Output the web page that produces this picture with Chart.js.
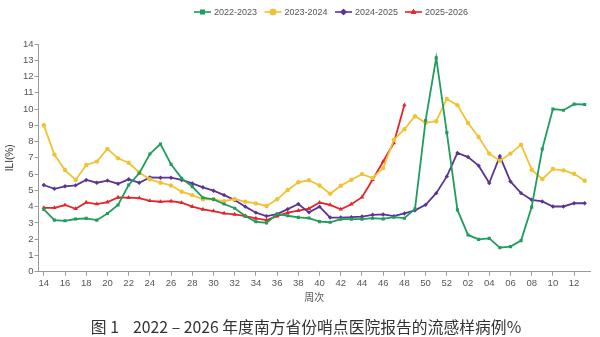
<!DOCTYPE html>
<html>
<head>
<meta charset="utf-8">
<script src="https://cdn.jsdelivr.net/npm/chart.js@4.4.1/dist/chart.umd.min.js"></script>
<style>
  html, body { margin: 0; padding: 0; background: #fff; }
  #wrap { width: 600px; height: 337px; }
</style>
</head>
<body>
<div id="wrap"><canvas id="c" width="600" height="337"></canvas></div>
<script>
// ── Data ─────────────────────────────────────────────────────────────────────

const weeks = [
  '14','15','16','17','18','19','20','21','22','23','24','25','26','27','28','29',
  '30','31','32','33','34','35','36','37','38','39','40','41','42','43','44','45',
  '46','47','48','49','50','51','52','01','02','03','04','05','06','07','08','09',
  '10','11','12','13'
];

const s2022 = [
  3.83, 3.17, 3.13, 3.24, 3.28, 3.17, 3.58, 4.10, 5.33, 6.05, 7.24, 7.85, 6.60, 5.74, 5.23, 4.55,
  4.45, 4.16, 3.90, 3.42, 3.07, 3.00, 3.55, 3.44, 3.34, 3.30, 3.08, 3.04, 3.23, 3.23, 3.23, 3.29,
  3.25, 3.35, 3.29, 3.86, 9.30, 13.15, 8.55, 3.80, 2.26, 1.99, 2.05, 1.48, 1.54, 1.91, 3.97, 7.54,
  10.00, 9.93, 10.30, 10.28
];

const s2023 = [
  9.00, 7.20, 6.25, 5.64, 6.56, 6.77, 7.55, 6.97, 6.70, 6.10, 5.68, 5.47, 5.30, 4.92, 4.71, 4.45,
  4.45, 4.34, 4.47, 4.30, 4.20, 4.04, 4.45, 5.02, 5.50, 5.62, 5.30, 4.79, 5.28, 5.65, 6.00, 5.76,
  6.37, 8.10, 8.76, 9.56, 9.15, 9.25, 10.62, 10.24, 9.14, 8.28, 7.26, 6.82, 7.26, 7.81, 6.27, 5.69,
  6.31, 6.23, 6.02, 5.59
];

const s2024 = [
  5.33, 5.10, 5.25, 5.31, 5.64, 5.47, 5.60, 5.41, 5.68, 5.47, 5.80, 5.78, 5.78, 5.64, 5.43, 5.19,
  4.98, 4.71, 4.41, 4.00, 3.63, 3.42, 3.54, 3.85, 4.16, 3.65, 4.00, 3.33, 3.33, 3.35, 3.39, 3.50,
  3.52, 3.42, 3.58, 3.77, 4.11, 4.83, 5.86, 7.30, 7.05, 6.52, 5.45, 7.10, 5.55, 4.83, 4.42, 4.32,
  4.01, 4.01, 4.21, 4.21
];

const s2025 = [
  3.93, 3.93, 4.10, 3.87, 4.26, 4.16, 4.28, 4.57, 4.55, 4.53, 4.36, 4.30, 4.34, 4.24, 4.00, 3.83,
  3.73, 3.59, 3.52, 3.42, 3.28, 3.17, 3.42, 3.63, 3.75, 3.88, 4.25, 4.11, 3.84, 4.15, 4.58, 5.65,
  6.78, 7.91, 10.25
];

const seriesNames = ['2022-2023', '2023-2024', '2024-2025', '2025-2026'];
const caption = '图 1    2022 – 2026 年度南方省份哨点医院报告的流感样病例%';

// ── Styles ───────────────────────────────────────────────────────────────────

const COLORS = ['#1f9d5c', '#f1c232', '#5b3594', '#e3262b'];
const MARKERS = ['rect', 'circle', 'rectRot', 'triangle'];
const AXIS = '#9a9a9a';
const TXT = '#555';
const FONT = "'Liberation Sans', 'Noto Sans CJK SC', sans-serif";
const CJK = "'Noto Sans CJK SC', sans-serif";

function ds(i, data) {
  return {
    label: seriesNames[i],
    data,
    borderColor: COLORS[i],
    backgroundColor: COLORS[i],
    borderWidth: 1.8,
    pointStyle: MARKERS[i],
    pointRadius: i === 3 ? 2.6 : 2.2,
    pointBorderWidth: 0,
    tension: 0,
  };
}

// ── Legend (line + marker + label) and figure caption ────────────────────────

const lineLegend = {
  id: 'lineLegend',
  afterDraw(chart) {
    const ctx = chart.ctx;
    const y = 12;
    const starts = [194, 264.5, 335, 405];
    ctx.save();
    ctx.font = `9px ${FONT}`;
    ctx.textBaseline = 'middle';
    seriesNames.forEach((name, i) => {
      const x0 = starts[i];
      ctx.strokeStyle = COLORS[i];
      ctx.lineWidth = 1.6;
      ctx.beginPath();
      ctx.moveTo(x0, y);
      ctx.lineTo(x0 + 17, y);
      ctx.stroke();
      ctx.fillStyle = COLORS[i];
      ctx.beginPath();
      Chart.helpers.drawPoint(ctx, { pointStyle: MARKERS[i], radius: 3.3, borderWidth: 0 }, x0 + 8.5, y);
      ctx.fill();
      ctx.fillStyle = TXT;
      ctx.fillText(name, x0 + 20, y + 0.5);
    });

    // caption sits a little right of the canvas centre in the reference
    ctx.font = `15.8px ${CJK}`;
    ctx.fillStyle = '#333';
    ctx.textAlign = 'center';
    ctx.fillText(caption, 306, 326.5);
    ctx.restore();
  }
};

new Chart(document.getElementById('c'), {
  type: 'line',
  data: {
    labels: weeks,
    datasets: [ds(0, s2022), ds(1, s2023), ds(2, s2024), ds(3, s2025)],
  },
  plugins: [lineLegend],
  options: {
    responsive: false,
    animation: false,
    layout: { padding: { top: 44, left: 0, right: 10, bottom: 24 } },
    scales: {
      x: {
        offset: true,
        border: { color: AXIS, width: 1 },
        grid: {
          drawOnChartArea: false,
          tickLength: 4,
          tickColor: c => (c.index % 2 ? 'rgba(0,0,0,0)' : AXIS),
        },
        ticks: {
          autoSkip: false,
          maxRotation: 0,
          padding: 2,
          color: TXT,
          font: { family: FONT, size: 9.5 },
          callback: (v, i) => (i % 2 ? '' : weeks[i]),
        },
        title: {
          display: true,
          text: '周次',
          color: TXT,
          font: { family: CJK, size: 10 },
          padding: { top: 0, bottom: 10 },
        },
        afterFit: s => { s.height = 41.3; },
      },
      y: {
        min: 0,
        max: 14,
        border: { color: AXIS, width: 1 },
        grid: { drawOnChartArea: false, tickLength: 4, tickColor: AXIS },
        ticks: {
          stepSize: 1,
          padding: 1,
          color: TXT,
          font: { family: FONT, size: 9.5 },
        },
        title: {
          display: true,
          text: 'ILI(%)',
          color: '#333',
          font: { family: FONT, size: 10 },
          padding: { top: 4, bottom: 0 },
        },
        afterFit: s => { s.width = 38.5; },
      },
    },
    plugins: {
      legend: { display: false },
      tooltip: { enabled: false },
      title: { display: false },
    },
  },
});
</script>
</body>
</html>
